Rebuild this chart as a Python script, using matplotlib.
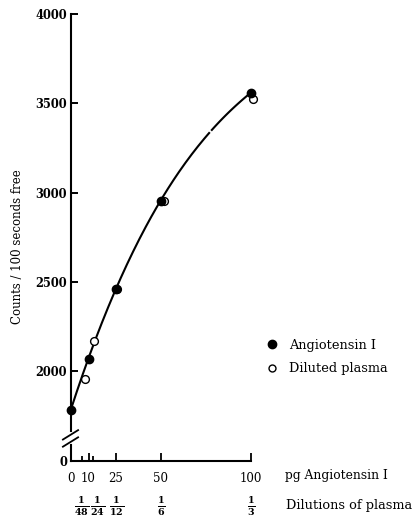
import numpy as np
import matplotlib
matplotlib.use("Agg")
import matplotlib.pyplot as plt
from matplotlib.lines import Line2D

plt.rcParams['font.family'] = ['DejaVu Serif']
plt.rcParams['mathtext.fontset'] = 'custom'
plt.rcParams['mathtext.rm'] = 'DejaVu Serif'
plt.rcParams['mathtext.bf'] = 'DejaVu Serif:bold'

# data
ang_pg = [0, 10, 25, 50, 100]
ang_counts = [1780, 2068, 2460, 2955, 3560]

plasma_pg = [8, 13, 26, 52, 101]
plasma_counts = [1955, 2170, 2458, 2950, 3525]

x_ticks = [0, 10, 25, 50, 100]
x_minor = [6.25, 12.5]
y_ticks = [0, 2000, 2500, 3000, 3500, 4000]

dil_pos = [6.4, 15.2, 25.5, 50.5, 100]
dil_labels = ['48', '24', '12', '6', '3']

# broken y axis: values below B squeezed
B = 1600
K = 0.065


def fwd(v):
    v = np.asarray(v, dtype=float)
    return np.where(v >= B, v, B - (B - v) * K)


def inv(u):
    u = np.asarray(u, dtype=float)
    return np.where(u >= B, u, B - (B - u) / K)


fig = plt.figure(figsize=(4.18, 5.26), dpi=100)
W, H = 418, 526
ax = fig.add_axes([70.5 / W, 65 / H, 180.5 / W, 447 / H])
ax.set_yscale('function', functions=(fwd, inv))
ax.set_xlim(0, 100)
ax.set_ylim(0, 4000)

# fitted curve through the angiotensin standards
coef = np.polyfit(ang_pg, ang_counts, 3)
xs1 = np.linspace(0, 76.8, 200)
xs2 = np.linspace(78.3, 100, 80)
ax.plot(xs1, np.polyval(coef, xs1), color='black', lw=1.5, clip_on=False, zorder=2)
ax.plot(xs2, np.polyval(coef, xs2), color='black', lw=1.5, clip_on=False, zorder=2)

ax.plot(plasma_pg, plasma_counts, 'o', ms=5.6, mfc='white', mec='black', mew=1.0,
        clip_on=False, zorder=3)
ax.plot(ang_pg, ang_counts, 'o', ms=6, color='black', clip_on=False, zorder=4)

# spines
for s in ['top', 'right']:
    ax.spines[s].set_visible(False)
ax.spines['left'].set_bounds(1665, 4000)
ax.spines['left'].set_linewidth(1.5)
ax.spines['bottom'].set_linewidth(1.5)
ax.spines['bottom'].set_bounds(0, 100)
low = float(inv(2000 - 74 / 0.1785))
ax.plot([0, 0], [0, low], color='black', lw=1.5, clip_on=False)

# break marks
for y0 in [0.032, 0.048]:
    ax.plot([-0.042, 0.042], [y0, y0 + 0.021], color='black', lw=1.3,
            transform=ax.transAxes, clip_on=False)

ax.set_yticks(y_ticks)
ax.set_yticklabels([str(t) for t in y_ticks], fontweight='bold', fontsize=8.3)
ax.tick_params(axis='y', direction='in', length=5, width=1.4, pad=2.5)
ax.yaxis.set_minor_locator(matplotlib.ticker.NullLocator())

ax.set_xticks(x_ticks)
ax.set_xticklabels([str(t) for t in x_ticks], fontsize=8.5)
ax.set_xticks(x_minor, minor=True)
ax.tick_params(axis='x', which='major', direction='in', length=5.5, width=1.3, pad=8)
ax.tick_params(axis='x', which='minor', direction='in', length=3.5, width=1.3)

ax.set_ylabel('Counts / 100 seconds free', fontsize=8.5)
ax.yaxis.set_label_coords(-0.26, 0.48)

# dilution fractions under the pg axis
for p, d in zip(dil_pos, dil_labels):
    ax.text(p, -0.1, r'$\frac{\mathbf{1}}{\mathbf{%s}}$' % d, transform=ax.get_xaxis_transform(),
            ha='center', va='center', fontsize=9.8)

fig.text(285 / W, 1 - 476 / H, 'pg Angiotensin I', fontsize=8.8, va='center')
fig.text(286 / W, 1 - 505 / H, 'Dilutions of plasma', fontsize=9.3, va='center')

handles = [Line2D([], [], ls='none', marker='o', ms=6, color='black'),
           Line2D([], [], ls='none', marker='o', ms=5, mfc='white', mec='black', mew=1.0)]
fig.legend(handles, ['Angiotensin I', 'Diluted plasma'], loc='center left',
           bbox_to_anchor=(254 / W, 1 - 357 / H), frameon=False, fontsize=9.3,
           handlelength=1.0, handletextpad=0.8, labelspacing=0.8)

fig.savefig('out.png', dpi=100)
